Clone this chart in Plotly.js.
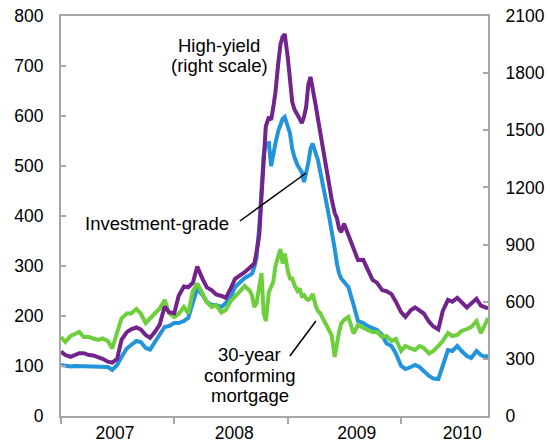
<!DOCTYPE html>
<html>
<head>
<meta charset="utf-8">
<script src="https://cdn.plot.ly/plotly-3.0.1.min.js"></script>
<style>html,body{margin:0;padding:0;background:#fff;}#chart{width:550px;height:442px;}</style>
</head>
<body>
<div id="chart"></div>
<script>
var dates = [
 "2007-01-01","2007-01-15","2007-02-01","2007-02-15","2007-03-01","2007-03-15","2007-04-01","2007-04-15","2007-05-01","2007-05-15","2007-06-01","2007-06-15",
 "2007-07-01","2007-07-15","2007-08-01","2007-08-15","2007-09-01","2007-09-15","2007-10-01","2007-10-15","2007-11-01","2007-11-15","2007-12-01","2007-12-15",
 "2008-01-01","2008-01-15","2008-02-01","2008-02-15","2008-03-01","2008-03-15","2008-04-01","2008-04-15","2008-05-01","2008-05-15","2008-06-01","2008-06-15",
 "2008-07-01","2008-07-15","2008-08-01","2008-08-15","2008-09-01","2008-09-08","2008-09-15","2008-09-22","2008-10-01","2008-10-08","2008-10-15","2008-10-22",
 "2008-11-01","2008-11-08","2008-11-15","2008-11-22","2008-12-01","2008-12-08","2008-12-15","2008-12-22",
 "2009-01-01","2009-01-08","2009-01-15","2009-01-22","2009-02-01","2009-02-08","2009-02-15","2009-02-22","2009-03-01","2009-03-08","2009-03-15","2009-03-22",
 "2009-04-01","2009-04-08","2009-04-15","2009-04-22","2009-05-01","2009-05-08","2009-05-15","2009-05-22","2009-06-01","2009-06-08","2009-06-15","2009-06-22",
 "2009-07-01","2009-07-15","2009-08-01","2009-08-15","2009-09-01","2009-09-15","2009-10-01","2009-10-15","2009-11-01","2009-11-15","2009-12-01","2009-12-15",
 "2010-01-01","2010-01-15","2010-02-01","2010-02-15","2010-03-01","2010-03-15","2010-04-01","2010-04-15","2010-05-01","2010-05-15","2010-06-01","2010-06-15",
 "2010-07-01","2010-07-15","2010-08-01","2010-08-15","2010-09-01","2010-09-15","2010-10-01","2010-10-08"
];

// Investment-grade spread, basis points (left scale)
var investmentGrade = [
 102,100,99,100,100,100,100,100,100,100,98,92,
 102,118,135,142,150,148,136,133,150,165,178,180,
 186,186,190,196,225,255,242,228,222,222,218,226,
 238,258,268,276,282,285,298,316,380,470,520,545,
 546,500,525,545,570,585,594,598,
 580,565,535,518,502,495,488,468,485,506,535,545,
 525,512,490,470,445,418,395,372,335,305,285,275,
 268,258,222,190,186,180,176,172,162,145,140,125,
 100,94,98,102,98,90,80,75,74,100,132,130,
 140,130,120,116,130,122,118,122
];

// High-yield spread, basis points (right scale)
var highYield = [
 338,320,311,318,330,330,320,318,310,300,285,280,
 300,400,440,455,465,455,425,410,445,480,575,545,
 540,630,680,676,700,785,720,675,660,638,630,620,
 670,720,740,755,780,790,800,860,950,1150,1380,1520,
 1570,1554,1620,1700,1850,1950,1990,2005,
 1880,1750,1650,1610,1585,1560,1538,1570,1622,1740,1780,1727,
 1630,1560,1490,1420,1330,1270,1200,1140,1066,1040,985,965,
 1010,950,870,819,820,770,715,700,661,655,640,600,
 545,520,555,570,555,538,495,470,455,550,610,600,
 620,600,570,590,615,580,567,565
];

// 30-year conforming mortgage spread, basis points (left scale)
var mortgage = [
 158,148,160,165,168,158,158,155,152,155,150,135,
 170,195,205,205,214,205,186,195,206,215,232,206,
 198,204,218,205,250,265,245,228,218,222,207,212,
 230,238,250,260,250,240,218,225,258,286,206,190,
 248,260,268,300,318,334,305,325,
 290,275,275,262,250,255,240,242,235,232,236,244,
 220,210,206,198,188,178,170,162,118,150,168,185,
 192,198,165,182,176,172,168,168,158,160,150,154,
 130,140,135,132,140,136,125,130,140,150,166,160,
 162,170,174,178,190,166,186,196
];

// x-axis labels and where they sit, year-boundary tick marks
var yearLabels = ["2007","2008","2009","2010"];
var yearLabelDates = ["2007-06-24","2008-07-12","2009-08-11","2010-07-17"];
var yearBoundaries = ["2007-01-01","2008-01-01","2009-01-01","2010-01-01"];

var FONT = "Arial, 'Liberation Sans', sans-serif";
var axisGrey = "#a6a6a6";
var TICKSIZE = 17.5;
var NOTESIZE = 18.5;

var traces = [
 {x: dates, y: investmentGrade, type: "scatter", mode: "lines", name: "Investment-grade",
  line: {color: "#2394db", width: 4}, yaxis: "y"},
 {x: dates, y: highYield, type: "scatter", mode: "lines", name: "High-yield",
  line: {color: "#73238c", width: 4}, yaxis: "y2"},
 {x: dates, y: mortgage, type: "scatter", mode: "lines", name: "30-year conforming mortgage",
  line: {color: "#6ecf3c", width: 4}, yaxis: "y"}
];

function note(text, x, y) {
 return {xref: "paper", yref: "paper", x: x, y: y, text: text, showarrow: false,
  xanchor: "center", yanchor: "middle", align: "center",
  font: {family: FONT, size: NOTESIZE, color: "#000"}};
}

var layout = {
 width: 550, height: 442,
 margin: {l: 61, r: 62, t: 16, b: 26, pad: 0},
 paper_bgcolor: "#ffffff", plot_bgcolor: "#ffffff",
 showlegend: false,
 font: {family: FONT, size: 16, color: "#000000"},
 xaxis: {
  type: "date", range: ["2007-01-01", "2010-10-08"],
  showgrid: false, zeroline: false,
  showline: true, linecolor: axisGrey, linewidth: 2, mirror: true,
  tickmode: "array", tickvals: yearLabelDates, ticktext: yearLabels, ticks: "",
  tickfont: {family: FONT, size: TICKSIZE, color: "#000"},
  minor: {tickmode: "array", tickvals: yearBoundaries, ticks: "outside", ticklen: 6, tickwidth: 2, tickcolor: axisGrey, showgrid: false}
 },
 yaxis: {
  range: [0, 800], dtick: 100, tick0: 0,
  showgrid: false, zeroline: false,
  showline: true, linecolor: axisGrey, linewidth: 2, mirror: true,
  ticks: "inside", ticklen: 5, tickwidth: 2, tickcolor: axisGrey,
  tickfont: {family: FONT, size: TICKSIZE, color: "#000"},
  ticklabelstandoff: 12
 },
 yaxis2: {
  range: [0, 2100], dtick: 300, tick0: 0,
  overlaying: "y", side: "right",
  showgrid: false, zeroline: false,
  showline: true, linecolor: axisGrey, linewidth: 2,
  ticks: "inside", ticklen: 5, tickwidth: 2, tickcolor: axisGrey,
  tickfont: {family: FONT, size: TICKSIZE, color: "#000"},
  ticklabelstandoff: 12
 },
 annotations: [
  note("High-yield", 0.371, 0.9275),
  note("(right scale)", 0.371, 0.8775),
  note("Investment-grade", 0.2248, 0.4825),
  note("30-year", 0.4426, 0.155),
  note("conforming", 0.4426, 0.1025),
  note("mortgage", 0.4426, 0.0525)
 ],
 shapes: [
  {type: "line", xref: "paper", yref: "paper", x0: 0.419, y0: 0.4875, x1: 0.574, y1: 0.6075, line: {color: "#000", width: 1.5}},
  {type: "line", xref: "paper", yref: "paper", x0: 0.536, y0: 0.15, x1: 0.597, y1: 0.2375, line: {color: "#000", width: 1.5}}
 ]
};

Plotly.newPlot("chart", traces, layout, {displayModeBar: false, staticPlot: true});
</script>
</body>
</html>
